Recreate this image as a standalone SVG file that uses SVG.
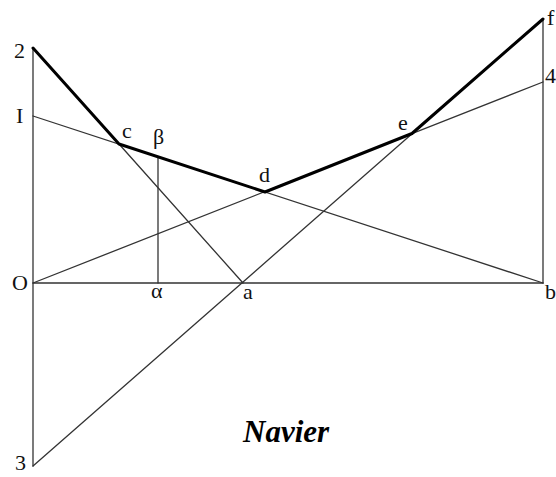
<svg xmlns="http://www.w3.org/2000/svg" width="556" height="477" viewBox="0 0 556 477">
<style>
.thin{stroke:#333;stroke-width:1.3;fill:none;stroke-linecap:round}
.thick{stroke:#000;stroke-width:3;fill:none;stroke-linejoin:round;stroke-linecap:round}
.lbl{font-family:"Liberation Serif","Times New Roman",serif;font-size:22px;fill:#111}
.title{font-family:"Liberation Serif","Times New Roman",serif;font-size:31px;font-weight:bold;font-style:italic;fill:#000}
</style>
<rect width="556" height="477" fill="#fff"/>
<g id="connectors">
<line class="thin" x1="33" y1="48" x2="33" y2="466"/>
<line class="thin" x1="543" y1="19" x2="543" y2="283"/>
<line class="thin" x1="33" y1="283" x2="543" y2="283"/>
<line class="thin" x1="33" y1="116" x2="543" y2="283"/>
<line class="thin" x1="119" y1="144" x2="243" y2="283"/>
<line class="thin" x1="33" y1="283" x2="543" y2="82"/>
<line class="thin" x1="33" y1="466" x2="543" y2="19"/>
<line class="thin" x1="158" y1="157" x2="158" y2="283"/>
<polyline class="thick" points="33,48 119,144 265,192 412,133.5 543,19"/>
</g>
<g id="node-2"><text class="lbl" x="14" y="58">2</text></g>
<g id="node-I"><text class="lbl" x="16" y="123">I</text></g>
<g id="node-O"><text class="lbl" x="12" y="290">O</text></g>
<g id="node-3"><text class="lbl" x="15" y="470">3</text></g>
<g id="node-c"><text class="lbl" x="122" y="138">c</text></g>
<g id="node-beta"><text class="lbl" x="153" y="144">β</text></g>
<g id="node-d"><text class="lbl" x="259" y="182">d</text></g>
<g id="node-e"><text class="lbl" x="398" y="130">e</text></g>
<g id="node-f"><text class="lbl" x="547" y="25">f</text></g>
<g id="node-4"><text class="lbl" x="545" y="83">4</text></g>
<g id="node-alpha"><text class="lbl" x="151" y="298">α</text></g>
<g id="node-a"><text class="lbl" x="243" y="299">a</text></g>
<g id="node-b"><text class="lbl" x="545" y="299">b</text></g>
<g id="title"><text class="title" x="243" y="442">Navier</text></g>
</svg>
